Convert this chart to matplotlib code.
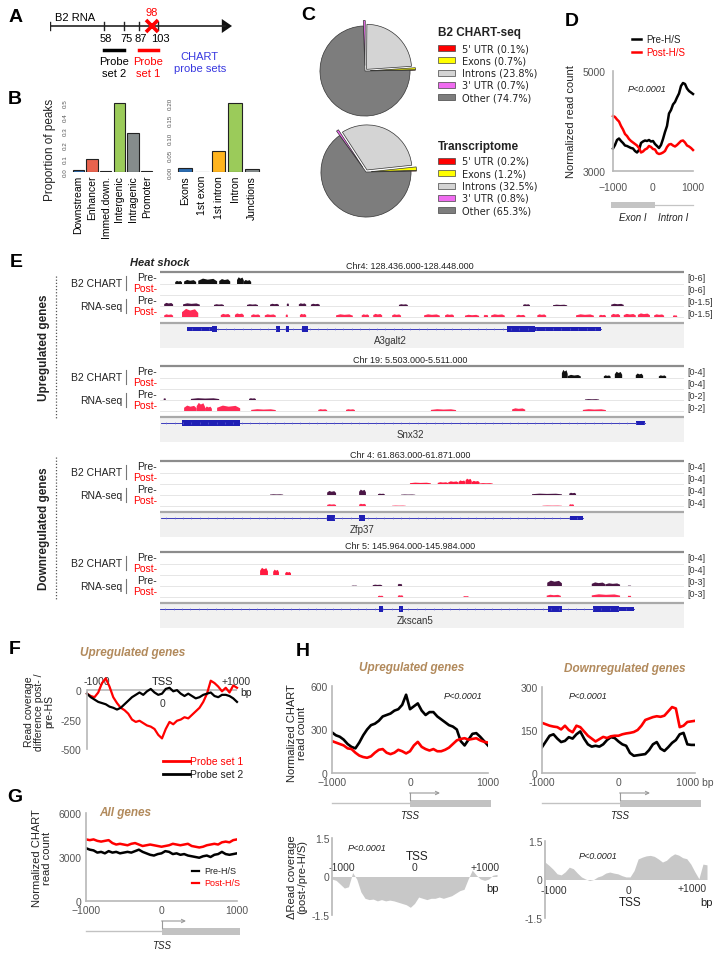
import numpy as np
import matplotlib
matplotlib.use("Agg")
import matplotlib.pyplot as plt
from matplotlib.patches import Rectangle, Polygon

plt.rcParams['font.family'] = ['Liberation Sans', 'DejaVu Sans']
NARROW = ['Liberation Sans Narrow', 'Liberation Sans', 'DejaVu Sans']

# ------------------------------------------------------------------ data
# A : B2 RNA schematic (nucleotide positions)
b2_ticks = [58, 75, 87, 103]
b2_mut = 98
probe_set2 = (58, 75)
probe_set1 = (87, 103)
b2_view = (13, 165)          # displayed stretch of the RNA (nt)

# B : proportion of peaks
peak_cats1 = ["Downstream", "Enhancer", "Immed.down.", "Intergenic", "Intragenic", "Promoter"]
peak_vals1 = [0.012, 0.096, 0.005, 0.50, 0.284, 0.006]
peak_cols1 = ["#2b6cb0", "#e8624e", "#666666", "#9bcb5a", "#858c8c", "#555555"]
peak_cats2 = ["Exons", "1st exon", "1st intron", "Intron", "Junctions"]
peak_vals2 = [0.0106, 0.001, 0.0606, 0.20, 0.008]
peak_cols2 = ["#2b6cb0", "#888888", "#ffb41e", "#9bcb5a", "#858c8c"]

# C : pies
pie_labels = ["5' UTR", "Exons", "Introns", "3' UTR", "Other"]
pie_cols = ["#ff0000", "#ffff00", "#d4d4d4", "#f06cf0", "#7d7d7d"]
chart_pct = [0.1, 0.7, 23.8, 0.7, 74.7]
trans_pct = [0.2, 1.2, 32.5, 0.8, 65.3]

# common x grid (bp)
bins = list(range(-1000, 1001, 50))

# D : exon I / intron I boundary
d_pre = [3450, 3520, 3620, 3650, 3600, 3560, 3510, 3500, 3480, 3460, 3450, 3400, 3370, 3420,
         3560, 3590, 3610, 3600, 3620, 3590, 3600, 3540, 3500, 3460, 3520, 3640, 3780, 3900,
         4150, 4220, 4330, 4380, 4470, 4550, 4700, 4760, 4740, 4650, 4600, 4570, 4540]
d_post = [4100, 4080, 4030, 3990, 3900, 3830, 3740, 3700, 3640, 3600, 3570, 3540, 3510, 3460,
          3370, 3390, 3430, 3450, 3500, 3480, 3440, 3430, 3360, 3340, 3350, 3370, 3400, 3480,
          3530, 3540, 3510, 3490, 3520, 3560, 3600, 3610, 3570, 3510, 3490, 3460, 3420]

# F : read coverage difference, upregulated genes
f_probe1 = [-30, -50, -60, -20, 60, 100, 30, -60, -110, -150, -170, -200, -250, -270, -260,
            -280, -300, -310, -330, -380, -410, -330, -270, -290, -260, -250, -230, -240, -210,
            -180, -150, -100, -30, 80, 60, 30, -10, 20, -20, 40, 20]
f_probe2 = [-30, -60, -80, -100, -110, -120, -140, -150, -165, -150, -120, -90, -60, -40, -20,
            -40, -10, 10, -20, -40, -30, 10, 20, -10, 0, -30, -50, -30, -50, -70, -60, -40,
            -30, -20, -50, -60, -40, -40, -50, -70, -100]

# G : all genes
g_pre = [3600, 3500, 3450, 3300, 3350, 3250, 3400, 3300, 3350, 3250, 3300, 3350, 3300, 3400,
         3500, 3350, 3250, 3150, 3100, 3200, 3250, 3400, 3350, 3200, 3250, 3150, 3200, 3100,
         3050, 3000, 2950, 3050, 3100, 3000, 3150, 3200, 3350, 3200, 3150, 3200, 3250]
g_post = [4200, 4150, 4200, 4100, 4050, 4100, 4150, 3950, 3850, 3900, 3850, 3800, 3900, 3950,
          3850, 3750, 3800, 3850, 3800, 3750, 3700, 3750, 3800, 3900, 3850, 3800, 3850, 3900,
          3750, 3700, 3650, 3700, 3800, 3850, 3900, 3850, 4000, 4050, 4000, 4150, 4200]

# H : up / down regulated genes
h_up_pre = [280, 260, 250, 230, 200, 180, 170, 210, 260, 300, 330, 340, 360, 390, 400, 410,
            430, 440, 470, 540, 440, 460, 480, 430, 400, 420, 420, 390, 370, 350, 330, 320,
            300, 220, 190, 230, 270, 275, 250, 220, 190]
h_up_post = [220, 210, 200, 190, 170, 165, 140, 120, 110, 105, 115, 140, 160, 165, 140, 130,
             140, 160, 150, 135, 150, 190, 215, 180, 165, 155, 165, 150, 150, 160, 175, 200,
             225, 235, 240, 230, 235, 240, 225, 215, 210]
h_dn_pre = [90, 110, 130, 135, 120, 108, 112, 125, 120, 135, 145, 120, 100, 92, 95, 92, 100,
            115, 125, 122, 110, 100, 95, 70, 60, 62, 64, 66, 80, 100, 108, 85, 77, 90, 105, 115,
            135, 140, 100, 98, 98]
h_dn_post = [175, 170, 165, 162, 160, 152, 165, 150, 142, 165, 160, 145, 130, 120, 110, 118,
             126, 122, 128, 130, 130, 135, 138, 140, 143, 150, 165, 185, 190, 195, 198, 196,
             200, 215, 230, 225, 160, 165, 178, 180, 182]
h_up_delta = [-0.1, -0.15, -0.3, -0.45, -0.4, 0.15, -0.1, -0.6, -0.85, -0.9, -0.88, -0.95, -0.9,
              -0.95, -0.92, -0.95, -1.0, -1.05, -1.1, -1.2, -1.05, -0.8, -0.85, -0.9, -0.85,
              -0.85, -0.8, -0.85, -0.8, -0.75, -0.65, -0.55, -0.5, -0.1, 0.25, 0.05, -0.1,
              -0.15, -0.1, 0.05, 0.08]
h_dn_delta = [0.68, 0.55, 0.4, 0.22, 0.18, 0.3, 0.48, 0.42, 0.25, 0.1, 0.02, -0.04, 0.0, 0.1,
              0.15, 0.25, 0.29, 0.25, 0.22, 0.15, 0.1, 0.1, 0.35, 0.8, 0.87, 0.92, 0.94, 0.9,
              0.8, 0.68, 0.75, 0.9, 1.0, 0.95, 0.85, 0.81, 0.6, 0.3, 0.03, 0.6, 0.57]

# E : genome browser tracks (start %, end %, relative height) within each window
e1_title = "Chr4: 128.436.000-128.448.000"
e1_scale = ["[0-6]", "[0-6]", "[0-1.5]", "[0-1.5]"]
e1_chart_pre = [(2.9, 4.2, .35), (4.6, 6.9, .45), (7.3, 10.9, .6), (11.3, 13.4, .55),
                (14.7, 16.0, .75), (16.0, 17.4, .45)]
e1_chart_post = []
e1_rna_pre = [(0.8, 2.5, .35), (4.4, 7.6, .3), (10.3, 12.2, .2), (16.6, 18.7, .2), (21.0, 22.7, .25),
              (24.2, 24.6, .3), (26.5, 27.9, .3), (28.8, 30.5, .25), (45.6, 47.3, .2),
              (69.3, 70.6, .2), (75.0, 77.7, .15), (86.1, 88.5, .25)]
e1_rna_post = [(0.8, 2.5, .3), (4.2, 7.3, .9), (11.6, 13.4, .35), (14.3, 16.0, .4), (17.4, 19.1, .3),
               (20.0, 22.1, .3), (24.0, 24.4, .3), (26.7, 27.9, .35), (33.6, 36.8, .3),
               (38.5, 39.9, .3), (40.7, 42.4, .35), (44.3, 46.0, .3), (50.4, 53.4, .3),
               (54.4, 56.1, .3), (58.2, 60.9, .25), (61.8, 62.6, .25), (63.2, 65.8, .3),
               (68.0, 69.7, .25), (72.0, 73.7, .3), (79.4, 82.8, .3), (83.8, 85.1, .25),
               (86.1, 87.8, .35), (88.5, 90.8, .35), (91.2, 93.5, .4), (94.3, 96.2, .3),
               (97.9, 98.7, .2)]
e1_span = (5.2, 84.2)
e1_exons = [(5.2, 10.9, .6), (10.0, 10.9, 1), (22.1, 22.9, 1), (24.0, 24.6, 1), (27.1, 28.2, 1),
            (66.2, 71.6, 1), (71.6, 84.2, .75)]
e1_gene = ("A3galt2", 43.9)

e2_title = "Chr 19: 5.503.000-5.511.000"
e2_scale = ["[0-4]", "[0-4]", "[0-2]", "[0-2]"]
e2_chart_pre = [(76.7, 77.8, .9), (77.8, 80.3, .35), (84.7, 86.0, .3), (86.8, 88.2, .7),
                (90.8, 92.2, .5), (95.2, 96.6, .3)]
e2_chart_post = []
e2_rna_pre = [(0.7, 1.1, .2), (5.9, 11.3, .2), (17.0, 18.3, .2), (81.1, 83.8, .1)]
e2_rna_post = [(4.6, 7.0, .6), (7.0, 8.6, .9), (8.6, 9.9, .5), (10.9, 15.3, .6), (17.4, 22.1, .2),
               (30.2, 31.9, .2), (35.5, 37.2, .2), (51.7, 56.5, .2), (67.2, 69.7, .3),
               (80.7, 85.1, .2)]
e2_span = (0.2, 92.6)
e2_exons = [(4.2, 15.3, 1), (90.8, 92.6, .75)]
e2_gene = ("Snx32", 47.7)

e3_title = "Chr 4: 61.863.000-61.871.000"
e3_scale = ["[0-4]", "[0-4]", "[0-4]", "[0-4]"]
e3_chart_pre = []
e3_chart_post = [(47.7, 51.7, .15), (53.0, 55.0, .2), (55.0, 57.0, .3), (57.0, 58.3, .4),
                 (58.3, 59.5, .6), (59.5, 61.0, .35), (61.0, 63.5, .1)]
e3_rna_pre = [(21.0, 23.5, .08), (31.9, 33.6, .45), (38.0, 39.3, .6), (41.6, 42.9, .15),
              (46.0, 48.7, .06), (71.0, 76.7, .15), (78.1, 79.4, .25)]
e3_rna_post = [(31.9, 33.6, .2), (38.0, 39.3, .25), (44.3, 46.9, .05), (73.0, 76.7, .05),
               (78.1, 79.0, .2)]
e3_span = (0.2, 80.7)
e3_exons = [(31.9, 33.4, 1), (38.0, 39.1, 1), (78.2, 80.7, .75)]
e3_gene = ("Zfp37", 38.5)

e4_title = "Chr 5: 145.964.000-145.984.000"
e4_scale = ["[0-4]", "[0-4]", "[0-3]", "[0-3]"]
e4_chart_pre = []
e4_chart_post = [(19.1, 20.6, .8), (21.6, 22.7, .6), (23.9, 25.0, .35)]
e4_rna_pre = [(36.6, 37.6, .05), (40.6, 42.4, .15), (45.4, 46.2, .25), (73.9, 76.7, .6),
              (82.4, 85.0, .4), (85.0, 87.8, .3), (89.3, 89.9, .05)]
e4_rna_post = [(41.6, 42.6, .15), (45.4, 46.4, .2), (57.9, 58.9, .1), (73.8, 76.5, .25),
               (82.4, 87.8, .3), (89.3, 89.9, .15)]
e4_span = (0.0, 90.4)
e4_exons = [(41.8, 42.5, 1), (45.7, 46.3, 1), (74.0, 76.8, 1), (82.6, 87.6, 1), (87.6, 90.4, .75)]
e4_gene = ("Zkscan5", 48.7)

# ------------------------------------------------------------------ figure
W, H = 722, 954
fig = plt.figure(figsize=(W / 100, H / 100), dpi=100)

RED = "#ff0000"
TAN = "#b28a5c"
AXC = "#b8b8b8"


def axpx(x0, y0, x1, y1):
    return fig.add_axes([x0 / W, 1 - y1 / H, (x1 - x0) / W, (y1 - y0) / H])


ov = axpx(0, 0, W, H)
ov.set_xlim(0, W)
ov.set_ylim(H, 0)
ov.axis('off')


def T(x, y, s, **kw):
    kw.setdefault('ha', 'center')
    kw.setdefault('va', 'center')
    kw.setdefault('fontsize', 7.5)
    kw.setdefault('color', '#222222')
    ov.text(x, y, s, **kw)


def lstyle(ax):
    for s in ('top', 'right'):
        ax.spines[s].set_visible(False)
    for s in ('left', 'bottom'):
        ax.spines[s].set_color(AXC)
        ax.spines[s].set_linewidth(1.2)
    ax.tick_params(length=0, labelsize=7.5, labelcolor='#555555')
    ax.patch.set_alpha(0)


# panel letters
for lab, (x, y) in {"A": (16, 17), "B": (15, 100), "C": (308, 15), "D": (572, 22),
                    "E": (16, 263), "F": (15, 650), "G": (15, 798), "H": (303, 652)}.items():
    T(x, y, lab, fontsize=14, fontweight='bold', color='black')

# ------------------------------------------------------------------ A
axA = axpx(50, 0, 232, 82)
axA.set_xlim(*b2_view)
axA.set_ylim(82, 0)
axA.axis('off')
x_end = b2_view[1]
axA.plot([b2_view[0], x_end - 6], [27, 27], color='#222', lw=1.2)
axA.add_patch(Polygon([(x_end - 8.5, 20), (x_end, 27), (x_end - 8.5, 34)],
                      closed=True, fc='#111', ec='none'))
axA.plot([b2_view[0], b2_view[0]], [23, 31], color='#222', lw=1.0)
for t in b2_ticks:
    axA.plot([t, t], [23, 31], color='#222', lw=1.0)
    axA.text(t + 2, 39, str(t), ha='center', va='center', fontsize=8)
axA.plot([b2_mut], [27], marker='x', ms=8, mew=2.6, color=RED)
axA.text(b2_mut, 13, str(b2_mut), ha='center', va='center', fontsize=8, color=RED)
axA.text(34, 18, "B2 RNA", ha='center', va='center', fontsize=8)
axA.plot(probe_set2, [51, 51], color='black', lw=2.5)
axA.plot(probe_set1, [51, 51], color=RED, lw=2.5)
axA.text(sum(probe_set2) / 2, 68, "Probe\nset 2", ha='center', va='center', fontsize=8,
         linespacing=1.15)
axA.text(sum(probe_set1) / 2, 68, "Probe\nset 1", ha='center', va='center', fontsize=8,
         color=RED, linespacing=1.15)
axA.text(138, 63, "CHART\nprobe sets", ha='center', va='center', fontsize=8,
         color='#3838e0', linespacing=1.15, clip_on=False)

# ------------------------------------------------------------------ B
for (x0, x1), cats, vals, cols, ymax, yt, ytl in [
        ((70, 155), peak_cats1, peak_vals1, peak_cols1, 0.5,
         [0, .1, .2, .3, .4, .5], ["0.0", "0.1", "0.2", "0.3", "0.4", "0.5"]),
        ((175, 262), peak_cats2, peak_vals2, peak_cols2, 0.2,
         [0, .05, .1, .15, .2], ["0.00", "0.05", "0.10", "0.15", "0.20"])]:
    ax = axpx(x0, 103, x1, 173)
    xs = np.arange(len(cats))
    ax.bar(xs, vals, width=0.82, color=cols, edgecolor='#222', linewidth=0.8)
    ax.set_xlim(-0.6, len(cats) - 0.4)
    ax.set_ylim(0, ymax * 1.012)
    ax.set_xticks(xs)
    ax.set_xticklabels(cats, rotation=90, fontsize=7.5)
    ax.set_yticks(yt)
    ax.set_yticklabels(ytl, rotation=90, fontsize=4.5, color='#555', va='center')
    for s in ax.spines.values():
        s.set_visible(False)
    ax.tick_params(length=0, pad=1.5)
    ax.tick_params(axis='x', pad=2)
    ax.patch.set_alpha(0)
T(50, 150, "Proportion of peaks", rotation=90, fontsize=8.5)

# ------------------------------------------------------------------ C
for (cx, cy), vals, title, ty, ly in [((365, 72), chart_pct, "B2 CHART-seq", 33, 49),
                                      ((366, 173), trans_pct, "Transcriptome", 147, 162)]:
    ax = axpx(cx - 50, cy - 50, cx + 50, cy + 50)
    ax.pie(vals, colors=pie_cols, startangle=1, counterclock=True,
           explode=[0.12, 0.12, 0.05, 0.12, 0.0],
           wedgeprops=dict(edgecolor='#333', linewidth=0.5))
    ax.set_xlim(-1.11, 1.11)
    ax.set_ylim(-1.11, 1.11)
    ax.set_aspect('equal')
    T(438, ty, title, ha='left', fontsize=8.5, fontweight='bold')
    for i, (lab, v, c) in enumerate(zip(pie_labels, vals, pie_cols)):
        yy = ly + i * 12.3
        ov.add_patch(Rectangle((438, yy - 3), 17, 6, fc=c, ec='#444', lw=0.5))
        T(462, yy, f"{lab} ({v}%)", ha='left', fontsize=7, family='DejaVu Sans')

# ------------------------------------------------------------------ D
axD = axpx(613, 72, 693, 172)
lstyle(axD)
axD.plot(bins, d_pre, color='black', lw=1.8, clip_on=False)
axD.plot(bins, d_post, color=RED, lw=1.8, clip_on=False)
axD.set_xlim(-1000, 1000)
axD.set_ylim(3000, 5000)
axD.set_yticks([3000, 5000])
axD.set_xticks([-1000, 0, 1000])
axD.tick_params(axis='x', pad=8)
axD.tick_params(axis='y', pad=5)
T(647, 90, "P<0.0001", style='italic', fontsize=6.5)
ov.plot([632, 641], [40, 40], color='black', lw=1.8)
T(646, 40, "Pre-H/S", ha='left', fontsize=7)
ov.plot([632, 641], [53, 53], color=RED, lw=1.8)
T(646, 53, "Post-H/S", ha='left', fontsize=7, color=RED)
T(571, 122, "Normalized read count", rotation=90, fontsize=8)
ov.add_patch(Rectangle((611, 203), 44, 6, fc='#c4c4c4', ec='none'))
ov.plot([655, 693], [206, 206], color='#c4c4c4', lw=0.9)
T(633, 218, "Exon I", style='italic', fontsize=7)
T(673, 218, "Intron I", style='italic', fontsize=7)

# ------------------------------------------------------------------ E
CH_PRE, CH_POST, RNA_PRE, RNA_POST, GENE = "#111111", "#ff1a40", "#4a1645", "#ff2a55", "#1f1fb4"


def draw_block(top, title, scale, tracks, span, exons, gene):
    ax = axpx(160, top - 2, 684, top + 76)
    ax.set_xlim(0, 100)
    ax.set_ylim(76, -2)
    ax.axis('off')
    ax.plot([0, 100], [0, 0], color='#8c8c8c', lw=1.6)
    bases = [12, 23, 34, 45]
    for b in bases:
        ax.plot([0, 100], [b, b], color='#e2e2e2', lw=0.6)
    for segs, col, b in zip(tracks, [CH_PRE, CH_POST, RNA_PRE, RNA_POST], bases):
        for s, e, h in segs:
            hh = h * 9.0
            w = e - s
            ax.add_patch(Polygon([(s, b), (s, b - 0.6 * hh), (s + 0.25 * w, b - hh),
                                  (s + 0.5 * w, b - 0.8 * hh), (e - 0.2 * w, b - 0.95 * hh),
                                  (e, b - 0.5 * hh), (e, b)],
                                 closed=True, fc=col, ec='none'))
    ax.add_patch(Rectangle((0, 51), 100, 25, fc='#f1f1f1', ec='none'))
    ax.plot([0, 100], [51, 51], color='#a9a9a9', lw=1.6)
    ax.plot(span, [57, 57], color=GENE, lw=0.6)
    xs = np.arange(span[0] + 1.0, span[1], 1.6)
    ax.plot(xs, [57] * len(xs), ls='none', marker='|', ms=2.0, mew=0.4, color='#6a6ad8')
    for s, e, k in exons:
        ax.add_patch(Rectangle((s, 57 - 2.6 * k), e - s, 5.2 * k, fc=GENE, ec='none'))
    ax.text(gene[1], 68, gene[0], ha='center', va='center', fontsize=7, color='#333')
    T(410, top - 6, title, fontsize=6.5, family=NARROW)
    T(157, top + 5, "Pre-", ha='right', fontsize=7.5, family=NARROW)
    T(157, top + 16, "Post-", ha='right', fontsize=7.5, family=NARROW, color=RED)
    T(157, top + 28, "Pre-", ha='right', fontsize=7.5, family=NARROW)
    T(157, top + 39, "Post-", ha='right', fontsize=7.5, family=NARROW, color=RED)
    T(122, top + 11, "B2 CHART", ha='right', fontsize=7.5, family=NARROW)
    T(122, top + 34, "RNA-seq", ha='right', fontsize=7.5, family=NARROW)
    ov.plot([126, 126], [top + 4, top + 18], color='#777', lw=0.8)
    ov.plot([126, 126], [top + 27, top + 41], color='#777', lw=0.8)
    for i, s in enumerate(scale):
        T(687, top + 6 + 11.7 * i, s, ha='left', fontsize=6.5, family=NARROW, color='#333')


draw_block(273, e1_title, e1_scale, [e1_chart_pre, e1_chart_post, e1_rna_pre, e1_rna_post],
           e1_span, e1_exons, e1_gene)
draw_block(367, e2_title, e2_scale, [e2_chart_pre, e2_chart_post, e2_rna_pre, e2_rna_post],
           e2_span, e2_exons, e2_gene)
draw_block(462, e3_title, e3_scale, [e3_chart_pre, e3_chart_post, e3_rna_pre, e3_rna_post],
           e3_span, e3_exons, e3_gene)
draw_block(553, e4_title, e4_scale, [e4_chart_pre, e4_chart_post, e4_rna_pre, e4_rna_post],
           e4_span, e4_exons, e4_gene)

T(160, 263, "Heat shock", fontsize=8, fontweight='bold', style='italic')
ov.plot([56, 56], [277, 420], ls=(0, (1, 1.5)), color='#555', lw=0.9)
ov.plot([56, 56], [458, 600], ls=(0, (1, 1.5)), color='#555', lw=0.9)
T(44, 348, "Upregulated genes", rotation=90, fontsize=8.5, fontweight='bold')
T(44, 529, "Downregulated genes", rotation=90, fontsize=8.5, fontweight='bold')

# ------------------------------------------------------------------ F
axF = axpx(87, 677, 237, 750)
lstyle(axF)
axF.spines['bottom'].set_visible(False)
axF.spines['left'].set_bounds(-500, 0)
axF.axhline(0, color=AXC, lw=1.2)
axF.plot(bins, f_probe1, color=RED, lw=1.6, clip_on=False)
axF.plot(bins, f_probe2, color='black', lw=1.6, clip_on=False)
axF.set_xlim(-1000, 1000)
axF.set_ylim(-500, 120)
axF.set_xticks([])
axF.set_yticks([0, -250, -500])
axF.set_yticklabels(["0", "-250", "-500"])
axF.tick_params(axis='y', pad=4)
T(133, 653, "Upregulated genes", color=TAN, fontweight='bold', style='italic', fontsize=8.5)
T(97, 682, "-1000", fontsize=7.5, color='#333')
T(162, 682, "TSS", fontsize=8, color='#222')
T(236, 682, "+1000", fontsize=7.5, color='#333')
T(246, 693, "bp", fontsize=7.5, color='#222')
T(162, 704, "0", fontsize=7.5, color='#333')
T(39, 712, "Read coverage\ndifference post- /\npre-HS", rotation=90, fontsize=7.5,
  linespacing=1.0)
ov.plot([163, 190], [762, 762], color=RED, lw=2)
T(190, 762, "Probe set 1", ha='left', fontsize=7.5, color=RED)
ov.plot([163, 190], [775, 775], color='black', lw=2)
T(190, 775, "Probe set 2", ha='left', fontsize=7.5)


def tss_diagram(x0, x1, xt, yb, tip, ty):
    ov.plot([x0, xt], [yb, yb], color='#c2c2c2', lw=1.0)
    ov.add_patch(Rectangle((xt, yb - 3.5), x1 - xt, 7, fc='#c2c2c2', ec='none'))
    ov.plot([xt, xt], [yb - 3.5, yb - 10], color='#999', lw=0.8)
    ov.annotate('', xy=(tip, yb - 10), xytext=(xt - 0.4, yb - 10),
                arrowprops=dict(arrowstyle='->', color='#999', lw=0.8,
                                shrinkA=0, shrinkB=0, mutation_scale=6))
    T(xt, ty, "TSS", style='italic', fontsize=7)


# ------------------------------------------------------------------ G
axG = axpx(86, 814, 237, 902)
lstyle(axG)
axG.plot(bins, g_post, color=RED, lw=1.8)
axG.plot(bins, g_pre, color='black', lw=1.8)
axG.set_xlim(-1000, 1000)
axG.set_ylim(0, 6000)
axG.set_yticks([0, 3000, 6000])
axG.set_xticks([-1000, 0, 1000])
axG.tick_params(axis='x', pad=3)
axG.tick_params(axis='y', pad=3)
T(125, 813, "All genes", color=TAN, fontweight='bold', style='italic', fontsize=8.5)
ov.plot([192, 199], [872, 872], color='black', lw=1.6)
T(204, 872, "Pre-H/S", ha='left', fontsize=6.5)
ov.plot([192, 199], [884, 884], color=RED, lw=1.6)
T(204, 884, "Post-H/S", ha='left', fontsize=6.5, color=RED)
T(42, 858, "Normalized CHART\nread count", rotation=90, fontsize=8, linespacing=1.1)
tss_diagram(86, 240, 162, 932, 186, 946)

# ------------------------------------------------------------------ H top
axHu = axpx(332, 687, 488, 774)
lstyle(axHu)
axHu.plot(bins, h_up_pre, color='black', lw=1.9)
axHu.plot(bins, h_up_post, color=RED, lw=1.9)
axHu.set_xlim(-1000, 1000)
axHu.set_ylim(0, 600)
axHu.set_yticks([0, 300, 600])
axHu.set_xticks([-1000, 0, 1000])
axHu.tick_params(axis='x', pad=3)
axHu.tick_params(axis='y', pad=3)
T(412, 668, "Upregulated genes", color=TAN, fontweight='bold', style='italic', fontsize=8.5)
T(463, 697, "P<0.0001", style='italic', fontsize=6.5)
T(297, 733, "Normalized CHART\nread count", rotation=90, fontsize=8, linespacing=1.1)
tss_diagram(332, 491, 410, 804, 440, 816)

axHd = axpx(542, 688, 695, 774)
lstyle(axHd)
axHd.plot(bins, h_dn_pre, color='black', lw=1.9)
axHd.plot(bins, h_dn_post, color=RED, lw=1.9)
axHd.set_xlim(-1000, 1000)
axHd.set_ylim(0, 300)
axHd.set_yticks([0, 150, 300])
axHd.set_xticks([-1000, 0, 1000])
axHd.set_xticklabels(["-1000", "0", "1000 bp"])
axHd.tick_params(axis='x', pad=3)
axHd.tick_params(axis='y', pad=3)
T(625, 669, "Downregulated genes", color=TAN, fontweight='bold', style='italic', fontsize=8.5)
T(588, 697, "P<0.0001", style='italic', fontsize=6.5)
tss_diagram(542, 701, 620, 804, 650, 816)

# ------------------------------------------------------------------ H bottom
for (x0, y0, x1, y1), vals in [((332, 839, 497, 916), h_up_delta),
                               ((545, 842, 707, 919), h_dn_delta)]:
    ax = axpx(x0, y0, x1, y1)
    lstyle(ax)
    ax.spines['bottom'].set_visible(False)
    ax.fill_between(bins, 0, vals, color='#c8c8c8', lw=0)
    ax.set_xlim(-1000, 1000)
    ax.set_ylim(-1.5, 1.5)
    ax.set_xticks([])
    ax.set_yticks([1.5, 0, -1.5])
    ax.set_yticklabels(["1.5", "0", "-1.5"])
    ax.tick_params(axis='y', pad=2)
T(367, 849, "P<0.0001", style='italic', fontsize=6.5)
T(417, 857, "TSS", fontsize=8.5)
T(342, 868, "-1000", fontsize=7.5, color='#333')
T(414, 868, "0", fontsize=7.5, color='#333')
T(485, 868, "+1000", fontsize=7.5, color='#333')
T(493, 889, "bp", fontsize=8)
T(598, 857, "P<0.0001", style='italic', fontsize=6.5)
T(554, 891, "-1000", fontsize=7.5, color='#333')
T(628, 891, "0", fontsize=7.5, color='#333')
T(692, 889, "+1000", fontsize=7.5, color='#333')
T(630, 903, "TSS", fontsize=8.5)
T(707, 903, "bp", fontsize=8)
T(297, 877, "\u0394Read coverage\n(post-/pre-H/S)", rotation=90, fontsize=8, linespacing=1.1)

fig.savefig("out.png", dpi=100)
